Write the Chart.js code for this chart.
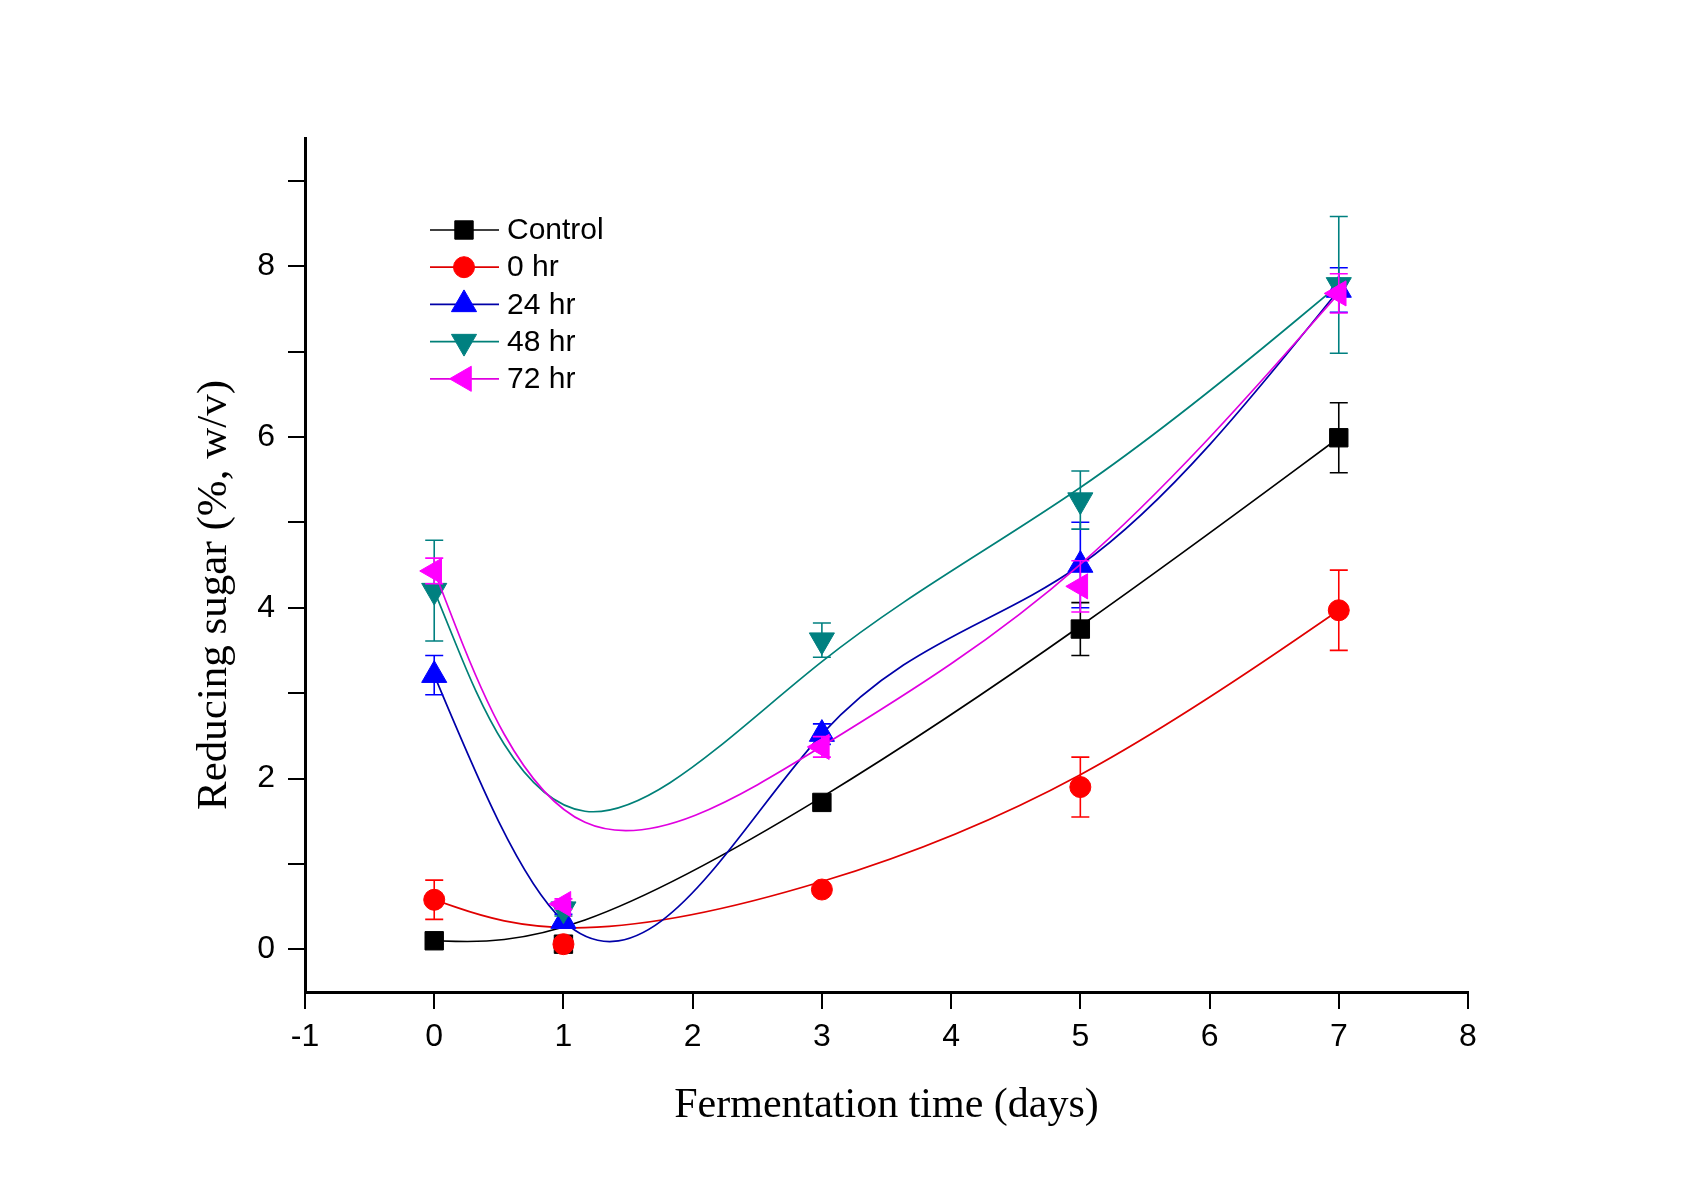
<!DOCTYPE html>
<html>
<head>
<meta charset="utf-8">
<script src="https://cdn.jsdelivr.net/npm/chart.js@4.4.1/dist/chart.umd.min.js"></script>
<style>
html,body{margin:0;padding:0;background:#ffffff;}
#wrap{width:1705px;height:1191px;position:relative;background:#fff;}
</style>
</head>
<body>
<div id="wrap"><canvas id="c" width="1705" height="1191"></canvas></div>
<script>
// ---------------- DATA ----------------
const days = [0, 1, 3, 5, 7];
const seriesNames = ['Control', '0 hr', '24 hr', '48 hr', '72 hr'];

const controlValues = [0.10, 0.06, 1.72, 3.75, 5.99];
const controlErr    = [0.04, 0.03, 0.06, 0.31, 0.41];

const hr0Values = [0.58, 0.06, 0.70, 1.90, 3.97];
const hr0Err    = [0.23, 0.04, 0.05, 0.35, 0.47];

const hr24Values = [3.21, 0.33, 2.52, 4.50, 7.72];
const hr24Err    = [0.23, 0.08, 0.12, 0.50, 0.26];

const hr48Values = [4.20, 0.47, 3.62, 5.26, 7.78];
const hr48Err    = [0.59, 0.08, 0.20, 0.34, 0.80];

const hr72Values = [4.43, 0.53, 2.37, 4.25, 7.68];
const hr72Err    = [0.15, 0.06, 0.12, 0.30, 0.23];

const xTickValues = [-1, 0, 1, 2, 3, 4, 5, 6, 7, 8];
const yTickValues = [0, 1, 2, 3, 4, 5, 6, 7, 8, 9];
const yLabeledTicks = [0, 2, 4, 6, 8];

const xTitle = 'Fermentation time (days)';
const yTitle = 'Reducing sugar (%, w/v)';

// ---------------- STYLE ----------------
const valueSets = [controlValues, hr0Values, hr24Values, hr48Values, hr72Values];
const errorSets = [controlErr, hr0Err, hr24Err, hr48Err, hr72Err];
const styles = [
  {color: '#000000', line: '#000000', pointStyle: 'rect',     radius: 13,   rotation: 0,   curve: 'bspline'},
  {color: '#FF0000', line: '#E00000', pointStyle: 'circle',   radius: 10.5, rotation: 0,   curve: 'bspline'},
  {color: '#0000FF', line: '#0000A8', pointStyle: 'triangle', radius: 14.5, rotation: 0,   curve: 'spline'},
  {color: '#008080', line: '#008078', pointStyle: 'triangle', radius: 14.5, rotation: 180, curve: 'bspline'},
  {color: '#FF00FF', line: '#E000E0', pointStyle: 'triangle', radius: 14.5, rotation: 270, curve: 'bspline'}
];

const SANS = '"Liberation Sans", Arial, sans-serif';
const SERIF = '"Liberation Serif", "Times New Roman", serif';

// ---------------- CURVE HELPERS ----------------
function bsplinePath(ctx, pts) {
  const n = pts.length;
  const P = [pts[0], pts[0]].concat(pts).concat([pts[n - 1], pts[n - 1]]);
  for (let i = 0; i + 3 < P.length; i++) {
    const p0 = P[i], p1 = P[i + 1], p2 = P[i + 2], p3 = P[i + 3];
    const b0x = (p0.x + 4 * p1.x + p2.x) / 6, b0y = (p0.y + 4 * p1.y + p2.y) / 6;
    const b1x = (2 * p1.x + p2.x) / 3,        b1y = (2 * p1.y + p2.y) / 3;
    const b2x = (p1.x + 2 * p2.x) / 3,        b2y = (p1.y + 2 * p2.y) / 3;
    const b3x = (p1.x + 4 * p2.x + p3.x) / 6, b3y = (p1.y + 4 * p2.y + p3.y) / 6;
    if (i === 0) ctx.moveTo(b0x, b0y);
    ctx.bezierCurveTo(b1x, b1y, b2x, b2y, b3x, b3y);
  }
}

function naturalSplinePath(ctx, pts) {
  const n = pts.length;
  const h = [];
  for (let i = 0; i < n - 1; i++) h.push(pts[i + 1].x - pts[i].x);
  const a = [], b = [], c = [], d = [];
  for (let i = 1; i < n - 1; i++) {
    a.push(h[i - 1]);
    b.push(2 * (h[i - 1] + h[i]));
    c.push(h[i]);
    d.push(6 * ((pts[i + 1].y - pts[i].y) / h[i] - (pts[i].y - pts[i - 1].y) / h[i - 1]));
  }
  const m = b.length;
  for (let i = 1; i < m; i++) {
    const w = a[i] / b[i - 1];
    b[i] -= w * c[i - 1];
    d[i] -= w * d[i - 1];
  }
  const sol = new Array(m);
  sol[m - 1] = d[m - 1] / b[m - 1];
  for (let i = m - 2; i >= 0; i--) sol[i] = (d[i] - c[i] * sol[i + 1]) / b[i];
  const M = new Array(n).fill(0);
  for (let i = 0; i < m; i++) M[i + 1] = sol[i];
  ctx.moveTo(pts[0].x, pts[0].y);
  for (let i = 0; i < n - 1; i++) {
    const x0 = pts[i].x, y0 = pts[i].y, x1 = pts[i + 1].x, y1 = pts[i + 1].y, hh = h[i];
    const dy = (y1 - y0) / hh;
    const s0 = dy - hh * (2 * M[i] + M[i + 1]) / 6;
    const s1 = dy + hh * (M[i] + 2 * M[i + 1]) / 6;
    ctx.bezierCurveTo(x0 + hh / 3, y0 + s0 * hh / 3, x1 - hh / 3, y1 - s1 * hh / 3, x1, y1);
  }
}

function drawMarker(ctx, style, r, rot, x, y, color) {
  ctx.save();
  ctx.fillStyle = color;
  ctx.strokeStyle = color;
  ctx.lineWidth = 1;
  ctx.beginPath();
  if (style === 'rect') {
    const s = Math.SQRT1_2 * r;
    ctx.rect(x - s, y - s, 2 * s, 2 * s);
  } else if (style === 'circle') {
    ctx.arc(x, y, r, 0, Math.PI * 2);
  } else {
    let rad = rot * Math.PI / 180;
    ctx.moveTo(x + Math.sin(rad) * r, y - Math.cos(rad) * r);
    rad += 2 * Math.PI / 3;
    ctx.lineTo(x + Math.sin(rad) * r, y - Math.cos(rad) * r);
    rad += 2 * Math.PI / 3;
    ctx.lineTo(x + Math.sin(rad) * r, y - Math.cos(rad) * r);
    ctx.closePath();
  }
  ctx.fill();
  ctx.stroke();
  ctx.restore();
}

// ---------------- PLUGIN ----------------
const customDraw = {
  id: 'customDraw',
  beforeDatasetDraw(chart, args) {
    const i = args.index;
    const s = styles[i];
    const ctx = chart.ctx;
    const pts = args.meta.data.map(p => ({x: p.x, y: p.y}));
    ctx.save();
    ctx.beginPath();
    if (s.curve === 'bspline') bsplinePath(ctx, pts); else naturalSplinePath(ctx, pts);
    ctx.strokeStyle = s.line;
    ctx.lineWidth = 1.7;
    ctx.stroke();
    // error bars
    const yScale = chart.scales.y;
    const vals = valueSets[i], errs = errorSets[i];
    ctx.strokeStyle = s.color;
    ctx.lineWidth = 1.6;
    pts.forEach((p, j) => {
      const top = yScale.getPixelForValue(vals[j] + errs[j]);
      const bot = yScale.getPixelForValue(vals[j] - errs[j]);
      ctx.beginPath();
      ctx.moveTo(p.x, top); ctx.lineTo(p.x, bot);
      ctx.moveTo(p.x - 9, top); ctx.lineTo(p.x + 9, top);
      ctx.moveTo(p.x - 9, bot); ctx.lineTo(p.x + 9, bot);
      ctx.stroke();
    });
    ctx.restore();
  },
  afterDraw(chart) {
    const ctx = chart.ctx;
    const area = chart.chartArea;
    ctx.save();
    // legend
    const lx0 = area.left + 125, lx1 = area.left + 194, mx = area.left + 159, tx = area.left + 202;
    const rowY0 = area.top + 92, rowGap = 37.2;
    ctx.font = '30px ' + SANS;
    ctx.textBaseline = 'middle';
    ctx.textAlign = 'left';
    seriesNames.forEach((name, i) => {
      const s = styles[i];
      const y = rowY0 + i * rowGap;
      ctx.beginPath();
      ctx.moveTo(lx0, y); ctx.lineTo(lx1, y);
      ctx.strokeStyle = s.line; ctx.lineWidth = 1.7; ctx.stroke();
      drawMarker(ctx, s.pointStyle, s.radius, s.rotation, mx, y, s.color);
      ctx.fillStyle = '#000';
      ctx.fillText(name, tx, y + 1);
    });
    // axis titles
    ctx.fillStyle = '#000';
    ctx.font = '42px ' + SERIF;
    ctx.textAlign = 'center';
    ctx.textBaseline = 'alphabetic';
    ctx.fillText(xTitle, (area.left + area.right) / 2, area.bottom + 125);
    ctx.save();
    ctx.translate(area.left - 79, (area.top + area.bottom) / 2 + 30);
    ctx.rotate(-Math.PI / 2);
    ctx.font = '43px ' + SERIF;
    ctx.fillText(yTitle, 0, 0);
    ctx.restore();
    ctx.restore();
  }
};

// ---------------- CHART ----------------
const datasets = seriesNames.map((name, i) => ({
  label: name,
  data: days.map((d, j) => ({x: d, y: valueSets[i][j]})),
  showLine: false,
  pointStyle: styles[i].pointStyle,
  pointRadius: styles[i].radius,
  pointHoverRadius: styles[i].radius,
  pointRotation: styles[i].rotation,
  pointBackgroundColor: styles[i].color,
  pointBorderColor: styles[i].color,
  pointBorderWidth: 1,
  order: seriesNames.length - i
}));

new Chart(document.getElementById('c'), {
  type: 'scatter',
  data: {datasets},
  plugins: [customDraw],
  options: {
    responsive: false,
    animation: false,
    devicePixelRatio: 1,
    layout: {padding: {left: 0, right: 237, top: 138, bottom: 0}},
    plugins: {legend: {display: false}, tooltip: {enabled: false}},
    scales: {
      x: {
        type: 'linear', min: -1, max: 8,
        afterBuildTicks: s => { s.ticks = xTickValues.map(v => ({value: v})); },
        afterFit: s => { s.height = 199; },
        ticks: {color: '#000', font: {family: SANS, size: 32}, padding: 9, maxRotation: 0, autoSkip: false},
        grid: {drawOnChartArea: false, drawTicks: true, tickLength: 17, color: '#000', lineWidth: 2},
        border: {display: true, color: '#000', width: 3}
      },
      y: {
        type: 'linear', min: -0.5, max: 9.5,
        afterBuildTicks: s => { s.ticks = yTickValues.map(v => ({value: v})); },
        afterFit: s => { s.width = 305; },
        ticks: {
          color: '#000', font: {family: SANS, size: 32}, padding: 13, autoSkip: false,
          callback: v => yLabeledTicks.includes(v) ? String(v) : ''
        },
        grid: {drawOnChartArea: false, drawTicks: true, tickLength: 17, color: '#000', lineWidth: 2},
        border: {display: true, color: '#000', width: 3}
      }
    }
  }
});
</script>
</body>
</html>
